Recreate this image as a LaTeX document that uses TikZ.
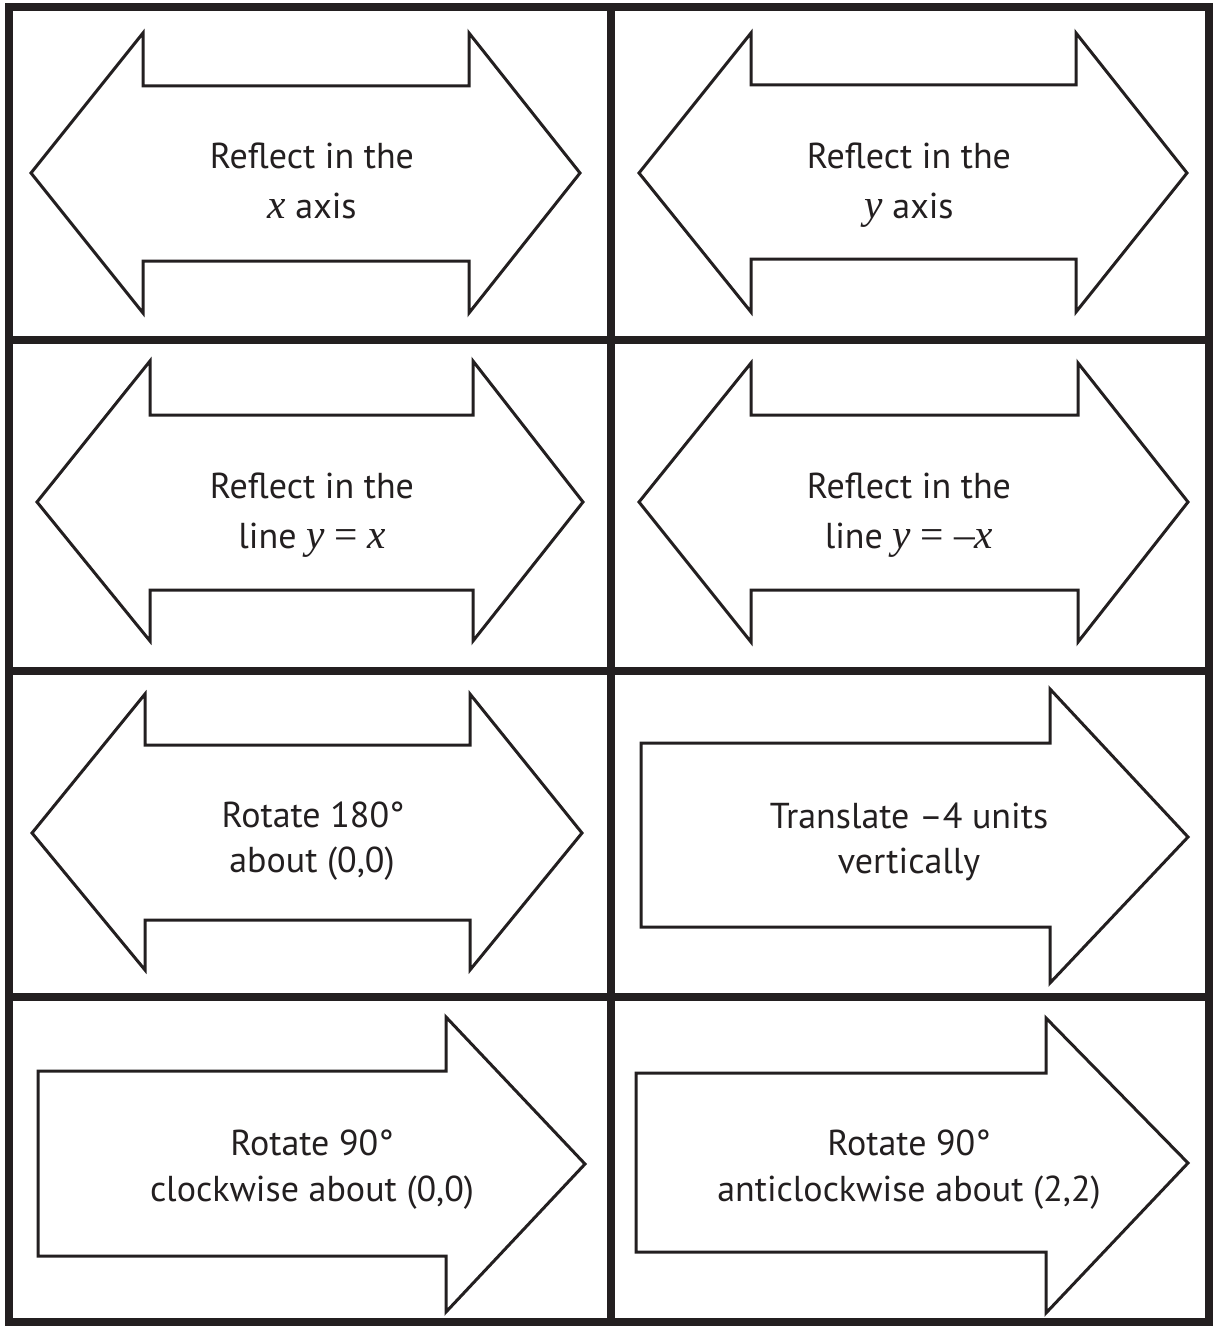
\documentclass[tikz,border=0pt]{standalone}
\usepackage{fontspec}
\setmainfont{PT Sans}
\newfontfamily\varfont[Scale=1.15]{Liberation Serif}
\usepackage{tikz}

\definecolor{ink}{RGB}{35,31,32}
\newcommand{\mvar}[1]{{\varfont\itshape #1}}

\begin{document}
\begin{tikzpicture}[x = 1pt, y = -1pt,
        card/.style = {draw = ink, line width = 8pt},
        cardarrow/.style = {draw = ink, line width = 3pt, fill = white, line join = miter},
        cardtext/.style = {anchor = base, inner sep = 0pt, text = ink, font = \fontsize{36}{42}\selectfont}
    ]
        \useasboundingbox (0, 0) rectangle (1213, 1327);

        % grid of cards
        \draw[card]
            (9, 7.5) rectangle (1209, 1322)
            (611, 7.5) -- (611, 1322)
            (9, 340) -- (1209, 340)
            (9, 671) -- (1209, 671)
            (9, 997) -- (1209, 997)
        ;

        % double arrows
        \draw[cardarrow]
            (31, 173) -- (143, 33) -- (143, 86) -- (469, 86) -- (469, 33) -- (580, 173)
            -- (469, 313) -- (469, 261) -- (143, 261) -- (143, 313) -- cycle
            (639, 173) -- (751, 33) -- (751, 85) -- (1076, 85) -- (1076, 33) -- (1187, 173)
            -- (1076, 312) -- (1076, 259) -- (751, 259) -- (751, 312) -- cycle
            (37, 502) -- (150, 361) -- (150, 415) -- (473, 415) -- (473, 361) -- (583, 502)
            -- (473, 641) -- (473, 590) -- (150, 590) -- (150, 641) -- cycle
            (639, 502) -- (751, 363) -- (751, 415) -- (1078, 415) -- (1078, 363) -- (1188, 502)
            -- (1078, 642) -- (1078, 590) -- (751, 590) -- (751, 642) -- cycle
            (32, 833) -- (145, 694) -- (145, 745) -- (470, 745) -- (470, 694) -- (582, 833)
            -- (470, 970) -- (470, 920) -- (145, 920) -- (145, 970) -- cycle
        ;

        % single arrows
        \draw[cardarrow]
            (641, 743) -- (1050, 743) -- (1050, 689) -- (1188, 837)
            -- (1050, 983) -- (1050, 927) -- (641, 927) -- cycle
            (38, 1071) -- (446, 1071) -- (446, 1017) -- (585, 1164)
            -- (446, 1312) -- (446, 1256) -- (38, 1256) -- cycle
            (636, 1073) -- (1046, 1073) -- (1046, 1018) -- (1188, 1163)
            -- (1046, 1313) -- (1046, 1252) -- (636, 1252) -- cycle
        ;

        % card texts
        \path
            (312, 168) node[cardtext](reflXa){Reflect in the}
            (312, 218) node[cardtext](reflXb){\mvar{x} axis}
            (909, 168) node[cardtext](reflYa){Reflect in the}
            (909, 218) node[cardtext](reflYb){\mvar{y} axis}

            (312, 498) node[cardtext](reflPa){Reflect in the}
            (312, 548) node[cardtext](reflPb){line \mvar{y} {\varfont =} \mvar{x}}
            (909, 498) node[cardtext](reflNa){Reflect in the}
            (909, 548) node[cardtext](reflNb){line \mvar{y} {\varfont = –}\mvar{x}}

            (313, 827) node[cardtext](rotHa){Rotate 180°}
            (312, 872) node[cardtext](rotHb){about (0,0)}
            (909, 828) node[cardtext](transA){Translate –4 units}
            (909, 873) node[cardtext](transB){vertically}

            (312, 1155) node[cardtext](rotCa){Rotate 90°}
            (312, 1201) node[cardtext](rotCb){clockwise about (0,0)}
            (909, 1155) node[cardtext](rotAa){Rotate 90°}
            (909, 1201) node[cardtext](rotAb){anticlockwise about (2,2)}
        ;
    \end{tikzpicture}
\end{document}
